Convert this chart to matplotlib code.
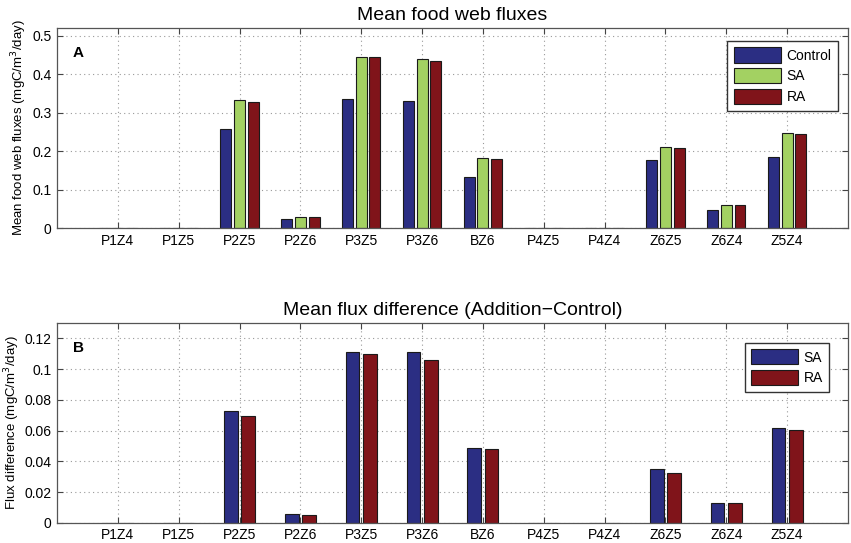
import numpy as np
import matplotlib
matplotlib.use("Agg")
import matplotlib.pyplot as plt

plt.rcParams['font.family'] = ['Liberation Sans', 'DejaVu Sans']

# flux names along the x axis
fluxes = ['P1Z4', 'P1Z5', 'P2Z5', 'P2Z6', 'P3Z5', 'P3Z6',
          'BZ6', 'P4Z5', 'P4Z4', 'Z6Z5', 'Z6Z4', 'Z5Z4']

# panel A: mean fluxes (mgC/m3/day)
control = [0.0008, 0.0008, 0.258, 0.0234, 0.337, 0.330,
           0.134, 0.0008, 0.0008, 0.177, 0.047, 0.186]
sa = [0.0008, 0.0008, 0.332, 0.0295, 0.446, 0.440,
      0.183, 0.0008, 0.0008, 0.212, 0.060, 0.248]
ra = [0.0008, 0.0008, 0.3276, 0.0286, 0.446, 0.435,
      0.180, 0.0008, 0.0008, 0.209, 0.060, 0.245]

# panel B: addition minus control
diff_sa = [0.0002, 0.0002, 0.0731, 0.0061, 0.111, 0.1115,
           0.049, 0.0002, 0.0002, 0.0349, 0.0132, 0.0618]
diff_ra = [0.0002, 0.0002, 0.0696, 0.0054, 0.110, 0.106,
           0.048, 0.0002, 0.0002, 0.0325, 0.0128, 0.0605]

c_blue = '#2b2e83'
c_green = '#a3d162'
c_red = '#80141a'
edge = '#1a1a1a'

fig = plt.figure(figsize=(8.51, 5.43), dpi=100)
ax1 = fig.add_axes([0.067, 0.580, 0.9295, 0.368])
ax2 = fig.add_axes([0.067, 0.037, 0.9295, 0.368])

x = np.arange(1, len(fluxes) + 1)


def style_axes(ax):
    ax.set_xlim(0, 13)
    ax.set_xticks(x)
    ax.set_xticklabels(fluxes)
    ax.tick_params(direction='in', top=True, right=True, length=4,
                   width=0.8, color='#444444', labelsize=10, pad=4)
    ax.grid(True, linestyle=(0, (1, 3)), color='#999999', linewidth=0.8)
    ax.set_axisbelow(True)
    for s in ax.spines.values():
        s.set_color('#555555')
        s.set_linewidth(0.9)


# panel A
w = 0.18
ax1.bar(x - 0.225, control, w, color=c_blue, edgecolor=edge, linewidth=0.8, label='Control')
ax1.bar(x, sa, w, color=c_green, edgecolor=edge, linewidth=0.8, label='SA')
ax1.bar(x + 0.225, ra, w, color=c_red, edgecolor=edge, linewidth=0.8, label='RA')
style_axes(ax1)
ax1.set_ylim(0, 0.52)
ax1.set_yticks([0, 0.1, 0.2, 0.3, 0.4, 0.5])
ax1.set_yticklabels(['0', '0.1', '0.2', '0.3', '0.4', '0.5'])
ax1.set_ylabel('Mean food web fluxes (mgC/m$^3$/day)', fontsize=9.5, labelpad=2)
ax1.set_title('Mean food web fluxes', fontsize=14, pad=6)
ax1.text(0.02, 0.855, 'A', transform=ax1.transAxes, fontsize=11, fontweight='bold')
ax1.legend(loc='upper right', bbox_to_anchor=(0.987, 0.935), borderaxespad=0,
           fancybox=False, edgecolor='#333333', framealpha=1, fontsize=10,
           handlelength=3.4, handleheight=1.3, labelspacing=0.4,
           handletextpad=0.4, borderpad=0.45)

# panel B
w2 = 0.225
ax2.bar(x - 0.143, diff_sa, w2, color=c_blue, edgecolor=edge, linewidth=0.8, label='SA')
ax2.bar(x + 0.143, diff_ra, w2, color=c_red, edgecolor=edge, linewidth=0.8, label='RA')
style_axes(ax2)
ax2.set_ylim(0, 0.13)
ax2.set_yticks([0, 0.02, 0.04, 0.06, 0.08, 0.1, 0.12])
ax2.set_yticklabels(['0', '0.02', '0.04', '0.06', '0.08', '0.1', '0.12'])
ax2.set_ylabel('Flux difference (mgC/m$^3$/day)', fontsize=9.5, labelpad=2)
ax2.set_title('Mean flux difference (Addition\u2212Control)', fontsize=14, pad=6)
ax2.text(0.02, 0.855, 'B', transform=ax2.transAxes, fontsize=11, fontweight='bold')
ax2.legend(loc='upper right', bbox_to_anchor=(0.976, 0.9), borderaxespad=0,
           fancybox=False, edgecolor='#333333', framealpha=1, fontsize=10,
           handlelength=3.4, handleheight=1.3, labelspacing=0.4,
           handletextpad=0.4, borderpad=0.45)

fig.savefig('out.png', dpi=100)
